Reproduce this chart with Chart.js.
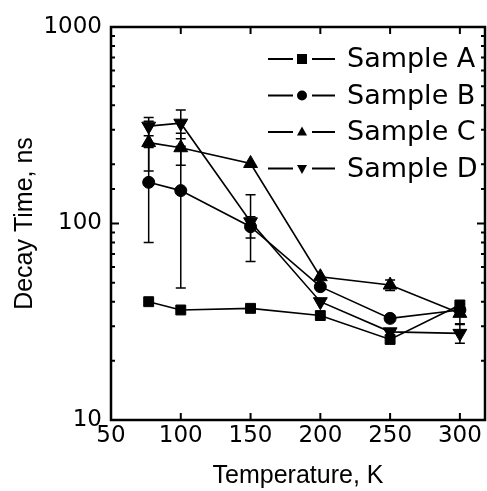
<!DOCTYPE html>
<html>
<head>
<meta charset="utf-8">
<script src="https://cdn.jsdelivr.net/npm/chart.js@4.4.1/dist/chart.umd.min.js"></script>
<style>
  html, body { margin: 0; padding: 0; background: #fff; }
</style>
</head>
<body>
<canvas id="decayChart" width="487" height="491"></canvas>
<script>
// Temperature (K) and decay times (ns)
const temperatures = [77, 100, 150, 200, 250, 300];
const sampleA = [40.0, 36.3, 37.0, 34.0, 25.7, 38.5];
const sampleB = [162, 147, 96.3, 47.7, 32.9, 36.3];
const sampleC = [258, 243, 202, 53.6, 48.6, 34.9];
const sampleD = [313, 324, 102, 40.0, 28.1, 27.6];

// error bar half-widths (0 = none drawn)
const sampleAErr = [0, 0, 0, 0, 0, 0];
const sampleBErr = [82, 100, 12, 0, 0, 0];
const sampleCErr = [73, 45, 0, 0, 3, 4];
const sampleDErr = [33, 54, 38, 0, 0, 3];

const sampleLabels = ['Sample A', 'Sample B', 'Sample C', 'Sample D'];
const xTicks = [50, 100, 150, 200, 250, 300];

const markerStyles = ['rect', 'circle', 'triangle', 'triangle'];
const markerRotation = [0, 0, 0, 180];
const markerRadius = [7, 6, 8, 8];

function toPoints(values) {
  return temperatures.map((t, i) => ({ x: t, y: values[i] }));
}

function makeDataset(idx, values, errors) {
  return {
    label: sampleLabels[idx],
    data: toPoints(values),
    errors: errors,
    borderColor: '#000',
    backgroundColor: '#000',
    borderWidth: 1.6,
    pointStyle: markerStyles[idx],
    rotation: markerRotation[idx],
    pointRadius: markerRadius[idx],
    pointBorderWidth: 1,
    tension: 0
  };
}

// error bars drawn underneath the markers
const errorBarPlugin = {
  id: 'errorBars',
  beforeDatasetsDraw(chart) {
    const ctx = chart.ctx;
    const xs = chart.scales.x, ys = chart.scales.y;
    ctx.save();
    ctx.strokeStyle = '#000';
    ctx.lineWidth = 1.5;
    chart.data.datasets.forEach(ds => {
      ds.data.forEach((p, i) => {
        const err = ds.errors[i];
        if (!err) return;
        const x = xs.getPixelForValue(p.x);
        const yTop = ys.getPixelForValue(p.y + err);
        const yBot = ys.getPixelForValue(Math.max(p.y - err, 1));
        ctx.beginPath();
        ctx.moveTo(x, yTop); ctx.lineTo(x, yBot);
        ctx.moveTo(x - 5, yTop); ctx.lineTo(x + 5, yTop);
        ctx.moveTo(x - 5, yBot); ctx.lineTo(x + 5, yBot);
        ctx.stroke();
      });
    });
    ctx.restore();
  }
};

// frame with inward ticks on all four sides
const framePlugin = {
  id: 'frame',
  afterDraw(chart) {
    const { ctx, chartArea: a } = chart;
    const xs = chart.scales.x, ys = chart.scales.y;
    ctx.save();
    ctx.strokeStyle = '#000';
    ctx.lineWidth = 2;
    ctx.beginPath();
    xs.ticks.forEach(t => {
      const x = xs.getPixelForValue(t.value);
      ctx.moveTo(x, a.bottom); ctx.lineTo(x, a.bottom - 7);
      ctx.moveTo(x, a.top); ctx.lineTo(x, a.top + 7);
    });
    ys.ticks.forEach(t => {
      const y = ys.getPixelForValue(t.value);
      const major = Math.abs(Math.log10(t.value) % 1) < 1e-6;
      const len = major ? 8 : 4;
      ctx.moveTo(a.left, y); ctx.lineTo(a.left + len, y);
      ctx.moveTo(a.right, y); ctx.lineTo(a.right - len, y);
    });
    ctx.stroke();
    ctx.lineWidth = 2.5;
    ctx.strokeRect(a.left, a.top, a.right - a.left, a.bottom - a.top);
    ctx.restore();
  }
};

function drawMarker(ctx, style, rot, x, y, r) {
  ctx.beginPath();
  if (style === 'rect') {
    ctx.rect(x - r, y - r, 2 * r, 2 * r);
  } else if (style === 'circle') {
    ctx.arc(x, y, r, 0, Math.PI * 2);
  } else {
    const s = rot ? -1 : 1;
    ctx.moveTo(x, y - s * r * 1.1);
    ctx.lineTo(x + r, y + s * r * 0.7);
    ctx.lineTo(x - r, y + s * r * 0.7);
    ctx.closePath();
  }
  ctx.fill();
}

// legend in the upper right, line-marker-line like the original
const legendPlugin = {
  id: 'innerLegend',
  afterDraw(chart) {
    const { ctx, chartArea: a } = chart;
    const left = a.right - 217;
    ctx.save();
    ctx.fillStyle = '#000';
    ctx.strokeStyle = '#000';
    ctx.lineWidth = 1.8;
    ctx.font = '27px "DejaVu Sans"';
    ctx.textBaseline = 'middle';
    chart.data.datasets.forEach((ds, i) => {
      const y = a.top + 32 + i * 36.5;
      ctx.beginPath();
      ctx.moveTo(left, y); ctx.lineTo(left + 25, y);
      ctx.moveTo(left + 44, y); ctx.lineTo(left + 67, y);
      ctx.stroke();
      drawMarker(ctx, markerStyles[i], markerRotation[i], left + 34, y, 5);
      ctx.fillText(ds.label, left + 79, y + 1);
    });
    ctx.restore();
  }
};

const tickFont = { family: 'DejaVu Sans', size: 23 };
const titleFont = { family: 'Liberation Sans', size: 25 };

new Chart(document.getElementById('decayChart'), {
  type: 'line',
  data: {
    datasets: [
      makeDataset(0, sampleA, sampleAErr),
      makeDataset(1, sampleB, sampleBErr),
      makeDataset(2, sampleC, sampleCErr),
      makeDataset(3, sampleD, sampleDErr)
    ]
  },
  options: {
    responsive: false,
    devicePixelRatio: 1,
    animation: false,
    layout: { autoPadding: false, padding: { top: 27, right: 2, left: 0, bottom: 0 } },
    plugins: {
      legend: { display: false },
      tooltip: { enabled: false }
    },
    scales: {
      x: {
        type: 'linear',
        min: 50,
        max: 318,
        grid: { display: false, drawTicks: false },
        border: { display: false },
        afterBuildTicks: s => { s.ticks = xTicks.map(v => ({ value: v })); },
        afterFit: s => { s.height = 71; s.paddingLeft = 0; s.paddingRight = 0; },
        ticks: { color: '#000', font: tickFont, padding: 2, maxRotation: 0 },
        title: { display: true, text: 'Temperature, K', color: '#000', font: titleFont, padding: { top: 0, bottom: 0 } }
      },
      y: {
        type: 'logarithmic',
        min: 10,
        max: 1000,
        grid: { display: false, drawTicks: false },
        border: { display: false },
        afterFit: s => { s.width = 111; s.paddingTop = 0; s.paddingBottom = 0; },
        ticks: {
          color: '#000',
          font: tickFont,
          padding: 9,
          autoSkip: false,
          callback: v => (Math.abs(Math.log10(v) % 1) < 1e-6 ? String(v) : '')
        },
        title: { display: true, text: 'Decay Time, ns', color: '#000', font: titleFont, padding: { top: 10, bottom: 0 } }
      }
    }
  },
  plugins: [errorBarPlugin, framePlugin, legendPlugin]
});
</script>
</body>
</html>
